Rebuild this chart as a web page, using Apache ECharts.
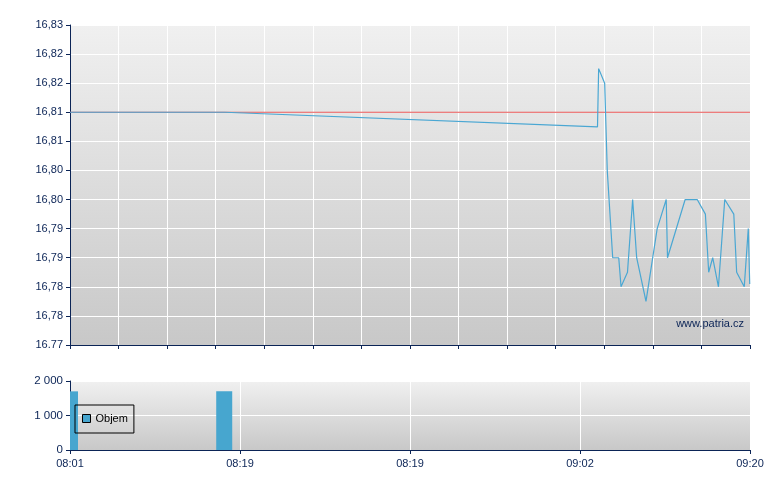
<!DOCTYPE html>
<html>
<head>
<meta charset="utf-8">
<script src="https://cdn.jsdelivr.net/npm/echarts@6/dist/echarts.min.js"></script>
<style>
html,body{margin:0;padding:0;background:#fff;}
#c{width:780px;height:490px;}
</style>
</head>
<body>
<div id="c"></div>
<script>
// ---- data ----
const startTime = '08:01:00';
const endTime = '09:20:00';
const tradeTimes = ['08:01:00','08:19:00','09:02:17','09:02:25','09:03:07','09:03:25','09:04:03','09:04:45','09:05:01','09:05:46','09:06:22','09:06:50','09:07:55','09:09:13','09:10:16','09:10:25','09:12:28','09:13:52','09:14:49','09:15:12','09:15:40','09:16:20','09:17:04','09:18:07','09:18:27','09:19:20','09:19:48','09:19:58'];
const tradePrices = [16.815,16.815,16.8125,16.8225,16.82,16.805,16.79,16.79,16.785,16.7875,16.80,16.79,16.7825,16.795,16.80,16.79,16.80,16.80,16.7975,16.7875,16.79,16.785,16.80,16.7975,16.7875,16.785,16.795,16.7855];
const refPrice = 16.815;
const volTimes = ['08:01:00','08:18:55'];
const volValues = [1700, 1700];
const priceTickLabels = ['16.77','16,78','16,78','16,79','16,79','16,80','16,80','16,81','16,81','16,82','16,82','16,83'];
const volTickLabels = ['0','1 000','2 000'];
const timeTickLabels = ['08:01','08:19','08:19','09:02','09:20'];
const seriesName = 'Objem';
const watermark = 'www.patria.cz';

// ---- helpers ----
function toSec(s){const p=s.split(':').map(Number);return p[0]*3600+p[1]*60+(p[2]||0);}
function toMin(s){return (toSec(s)-toSec(startTime))/60;}
const spanMin = toMin(endTime);
const yMin = 16.775, yMax = 16.83, yStep = 0.005;

const navy = '#0b2456';
const font = 'Liberation Sans, Arial, sans-serif';
function bg(){
  return new echarts.graphic.LinearGradient(0,0,0,1,[{offset:0,color:'#f0f0f0'},{offset:1,color:'#c8c8c8'}]);
}

const chart = echarts.init(document.getElementById('c'), null, {renderer:'canvas'});
chart.setOption({
  animation:false,
  textStyle:{fontFamily:font},
  grid:[
    {left:70,right:30,top:25,height:320,show:true,backgroundColor:bg(),borderWidth:0},
    {left:70,right:30,top:381,height:69,show:true,backgroundColor:bg(),borderWidth:0}
  ],
  legend:{
    data:[seriesName],
    left:75, top:405,
    orient:'horizontal',
    padding:[8,6,9,7],
    itemWidth:8, itemHeight:8, itemGap:5,
    borderColor:'#000', borderWidth:1, backgroundColor:'transparent',
    icon:'rect',
    itemStyle:{color:'#47a6cf',borderColor:'#000',borderWidth:1},
    textStyle:{color:'#000',fontSize:11,fontFamily:font}
  },
  xAxis:[
    {gridIndex:0,type:'value',min:0,max:spanMin,interval:spanMin/14,
     axisLine:{show:true,onZero:false,lineStyle:{color:navy,width:1}},
     axisTick:{show:true,length:4,lineStyle:{color:navy}},
     axisLabel:{show:false},
     splitLine:{show:true,lineStyle:{color:'#ffffff',width:1}}},
    {gridIndex:1,type:'value',min:0,max:spanMin,interval:spanMin/4,
     axisLine:{show:true,onZero:false,lineStyle:{color:navy,width:1}},
     axisTick:{show:true,length:4,lineStyle:{color:navy}},
     axisLabel:{show:true,color:navy,fontSize:11,fontFamily:font,margin:8,
       formatter:function(v){return timeTickLabels[Math.round(v/(spanMin/4))]||'';}},
     splitLine:{show:true,lineStyle:{color:'#ffffff',width:1}}}
  ],
  yAxis:[
    {gridIndex:0,type:'value',min:yMin,max:yMax,interval:yStep,
     axisLine:{show:true,onZero:false,lineStyle:{color:navy,width:1}},
     axisTick:{show:true,length:4,lineStyle:{color:navy}},
     axisLabel:{color:navy,fontSize:11,fontFamily:font,margin:7,
       formatter:function(v){return priceTickLabels[Math.round((v-yMin)/yStep)]||'';}},
     splitLine:{show:true,lineStyle:{color:'#ffffff',width:1}}},
    {gridIndex:1,type:'value',min:0,max:2000,interval:1000,
     axisLine:{show:true,onZero:false,lineStyle:{color:navy,width:1}},
     axisTick:{show:true,length:4,lineStyle:{color:navy}},
     axisLabel:{color:navy,fontSize:11.5,fontFamily:font,margin:7,
       formatter:function(v){return volTickLabels[Math.round(v/1000)]||'';}},
     splitLine:{show:true,lineStyle:{color:'#ffffff',width:1}}}
  ],
  graphic:[
    {type:'text',right:36,top:318,z:100,
     style:{text:watermark,fill:navy,font:'11px '+font}}
  ],
  series:[
    {name:'ref',type:'line',xAxisIndex:0,yAxisIndex:0,z:2,
     data:[[0,refPrice],[spanMin,refPrice]],showSymbol:false,symbol:'none',
     lineStyle:{color:'#e85555',width:1},silent:true},
    {name:'cena',type:'line',xAxisIndex:0,yAxisIndex:0,z:3,
     data:tradeTimes.map((t,i)=>[toMin(t),tradePrices[i]]),
     showSymbol:false,symbol:'none',
     lineStyle:{color:'#4aa7d3',width:1.2}},
    {name:seriesName,type:'custom',xAxisIndex:1,yAxisIndex:1,
     itemStyle:{color:'#47a6cf'},
     data:volTimes.map((t,i)=>[toMin(t),volValues[i]]),
     renderItem:function(params,api){
       const x=api.value(0), v=api.value(1);
       const p0=api.coord([x,0]), p1=api.coord([x,v]);
       const w=16;
       const cs=params.coordSys;
       const r=echarts.graphic.clipRectByRect(
         {x:p0[0]-w/2,y:p1[1],width:w,height:p0[1]-p1[1]},
         {x:cs.x,y:cs.y,width:cs.width,height:cs.height});
       return r && {type:'rect',shape:r,style:api.style()};
     }}
  ]
});
</script>
</body>
</html>
